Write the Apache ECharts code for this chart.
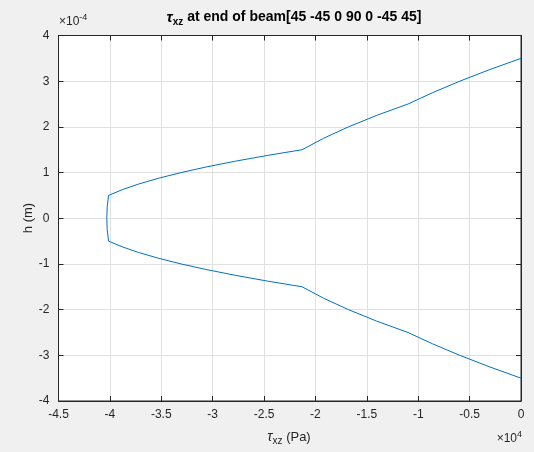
<!DOCTYPE html>
<html>
<head>
<meta charset="utf-8">
<script src="https://cdn.jsdelivr.net/npm/echarts@6/dist/echarts.min.js"></script>
<style>
html,body{margin:0;padding:0;background:#f0f0f0;}
#c{width:534px;height:452px;}
</style>
</head>
<body>
<div id="c"></div>
<script>
// h positions (units of 1e-4 m), top half from top surface to mid-plane
const hTop = [3.5, 3.25, 3.0, 2.75, 2.5, 2.25, 2.0, 1.75, 1.5, 1.375, 1.25, 1.125, 1.0, 0.875, 0.75, 0.625, 0.5, 0.25, 0];
// shear stress tau_xz (Pa) at those heights
const tauTop = [0, -3090, -5960, -8590, -11000, -14060, -16790, -19210, -21300, -24680, -27770, -30570, -33070, -35275, -37190, -38806, -40130, -40260, -40300];
// lower half (symmetric laminate), from mid-plane to bottom surface
const hBot = [-0.25, -0.5, -0.625, -0.75, -0.875, -1.0, -1.125, -1.25, -1.375, -1.5, -1.75, -2.0, -2.25, -2.5, -2.75, -3.0, -3.25, -3.5];
const tauBot = [-40260, -40130, -38806, -37190, -35275, -33070, -30570, -27770, -24680, -21300, -19210, -16790, -14060, -11000, -8590, -5960, -3090, 0];
const xTicks = [-4.5, -4, -3.5, -3, -2.5, -2, -1.5, -1, -0.5, 0];
const yTicks = [-4, -3, -2, -1, 0, 1, 2, 3, 4];

const data = [];
hTop.forEach((h, i) => data.push([tauTop[i], h]));
hBot.forEach((h, i) => data.push([tauBot[i], h]));

const txt = '#262626';
const font = 'Liberation Sans';
const chart = echarts.init(document.getElementById('c'));
const axisCommon = {
  axisLine: {show: true, onZero: false, lineStyle: {color: txt, width: 1}},
  axisTick: {show: true, inside: true, length: 5, lineStyle: {color: txt}},
};
chart.setOption({
  backgroundColor: '#f0f0f0',
  animation: false,
  title: {
    text: '{t|τ}{s|xz}{b| at end of beam[45 -45 0 90 0 -45 45]}',
    left: 289, top: 3, textAlign: 'center',
    textStyle: {
      rich: {
        t: {fontFamily: font, fontStyle: 'italic', fontSize: 15, color: '#000'},
        s: {fontFamily: font, fontWeight: 'bold', fontSize: 10, color: '#000', verticalAlign: 'bottom', padding: [9, 0, 0, 0]},
        b: {fontFamily: font, fontWeight: 'bold', fontSize: 14, color: '#000'}
      }
    }
  },
  grid: {left: 58.5, right: 13, top: 35.5, bottom: 51, show: true, backgroundColor: '#fff', borderColor: txt, borderWidth: 1},
  xAxis: [{
    type: 'value', min: -45000, max: 0, interval: 5000, position: 'bottom',
    ...axisCommon,
    splitLine: {show: true, lineStyle: {color: '#e0e0e0', width: 1}},
    axisLabel: {color: txt, fontFamily: font, fontSize: 12, margin: 8,
      formatter: v => { const s = xTicks.find(t => Math.abs(t * 1e4 - v) < 1); return s === undefined ? '' : String(s); }}
  }, {
    type: 'value', min: -45000, max: 0, interval: 5000, position: 'top',
    ...axisCommon, splitLine: {show: false}, axisLabel: {show: false}
  }],
  yAxis: [{
    type: 'value', min: -4, max: 4, interval: 1, position: 'left',
    ...axisCommon,
    splitLine: {show: true, lineStyle: {color: '#e0e0e0', width: 1}},
    axisLabel: {color: txt, fontFamily: font, fontSize: 12, margin: 9,
      formatter: v => { const s = yTicks.find(t => Math.abs(t - v) < 1e-6); return s === undefined ? '' : String(s); }}
  }, {
    type: 'value', min: -4, max: 4, interval: 1, position: 'right',
    ...axisCommon, splitLine: {show: false}, axisLabel: {show: false}
  }],
  series: [{
    type: 'line', data: data, showSymbol: false, smooth: false,
    lineStyle: {color: '#0072BD', width: 1}, itemStyle: {color: '#0072BD'}
  }],
  graphic: [
    {type: 'text', left: 59, top: 13, style: {text: '{a|×10}{b|-4}', rich: {a: {fontFamily: font, fontSize: 12, fill: txt, verticalAlign: 'bottom'}, b: {fontFamily: font, fontSize: 9, fill: txt, verticalAlign: 'top', padding: [0,0,6,0]}}}},
    {type: 'text', right: 12, top: 430, style: {text: '{a|×10}{b|4}', rich: {a: {fontFamily: font, fontSize: 12, fill: txt, verticalAlign: 'bottom'}, b: {fontFamily: font, fontSize: 9, fill: txt, verticalAlign: 'top', padding: [0,0,6,0]}}}},
    {type: 'text', x: 289, y: 437, style: {text: '{t|τ}{s|xz}{b| (Pa)}', align: 'center', verticalAlign: 'middle', rich: {
      t: {fontFamily: font, fontStyle: 'italic', fontSize: 14, fill: txt},
      s: {fontFamily: font, fontSize: 10, fill: txt, verticalAlign: 'bottom', padding: [8, 0, 0, 0]},
      b: {fontFamily: font, fontSize: 13, fill: txt}}}},
    {type: 'text', x: 28, y: 218, rotation: Math.PI / 2, style: {text: 'h (m)', align: 'center', verticalAlign: 'middle', fontFamily: font, fontSize: 13, fill: txt}}
  ]
});
</script>
</body>
</html>
